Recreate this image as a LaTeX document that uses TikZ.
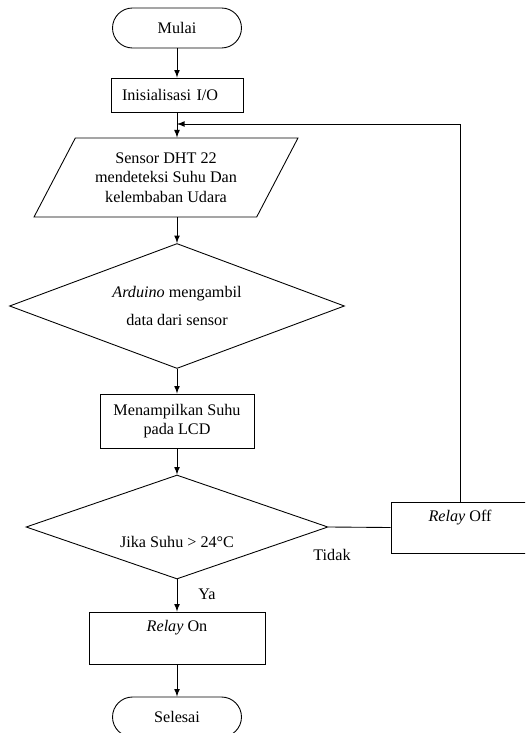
\documentclass[tikz,border=0pt]{standalone}
\usepackage{fontspec}
\setmainfont{Liberation Serif}
\usetikzlibrary{arrows,shapes.geometric}

\begin{document}
\begin{tikzpicture}[
x=0.02cm, y=-0.02cm,
font=\fontsize{9.2}{11}\selectfont,
line width=0.5pt,
flow/.style={->,>=latex},
terminal/.style={draw,rectangle,rounded corners=0.4cm,minimum width=2.58cm,minimum height=0.8cm},
process/.style={draw,rectangle,align=center},
io/.style={draw,trapezium,trapezium left angle=56,trapezium right angle=124,trapezium stretches body,align=center,minimum width=5.28cm,minimum height=1.58cm},
decision/.style={draw,diamond,aspect=2.7,inner sep=0pt,align=center}]
    % Frame
    \clip (0,0) rectangle (525,733);

    % Main column
    \node[terminal] (mulai) at (177,28) {Mulai};
    \node[process,text width=2.2cm,align=left,inner xsep=0.22cm,minimum height=0.68cm] (init) at (177,95) {Inisialisasi I/O};
    \node[io] (sensor) at (166,177.5) {Sensor DHT 22\\ mendeteksi Suhu Dan\\ kelembaban Udara};
    \node[decision,minimum width=6.7cm,minimum height=2.5cm] (arduino) at (177,306) {\textit{Arduino} mengambil\\[5pt] data dari sensor};
    \node[process,minimum width=3.08cm,minimum height=1.08cm] (lcd) at (177,421) {Menampilkan Suhu\\ pada LCD};
    \node[decision,minimum width=6.04cm,minimum height=2.08cm,
        label={[yshift=-0.3cm]center:Jika Suhu > 24°C}] (cek) at (177,527) {};
    \node[process,minimum width=3.52cm,minimum height=1.04cm,
        label={[anchor=north,yshift=-0.05cm]north:\textit{Relay} On}] (on) at (177,638) {};
    \node[terminal] (selesai) at (177,717) {Selesai};

    % Loop back
    \node[process,minimum width=2.76cm,minimum height=1.02cm,
        label={[anchor=north,yshift=-0.05cm]north:\textit{Relay} Off}] (off) at (460,527.5) {};
    \coordinate (masuk) at (177,124);

    \node (tidak) at (332,555) {Tidak};
    \node (ya) at (207,594) {Ya};

    \draw[flow] (mulai) -- (init);
    \draw[flow] (init.south) -- (init.south |- sensor.north);
    \draw[flow] (arduino.north |- sensor.south) -- (arduino);
    \draw[flow] (arduino) -- (lcd);
    \draw[flow] (lcd) -- (cek);
    \draw[flow] (cek) -- (on);
    \draw[flow] (on) -- (selesai);
    \draw (cek.east) -- (off.west);
    \draw[flow] (off.north) |- (masuk);

\end{tikzpicture}
\end{document}
